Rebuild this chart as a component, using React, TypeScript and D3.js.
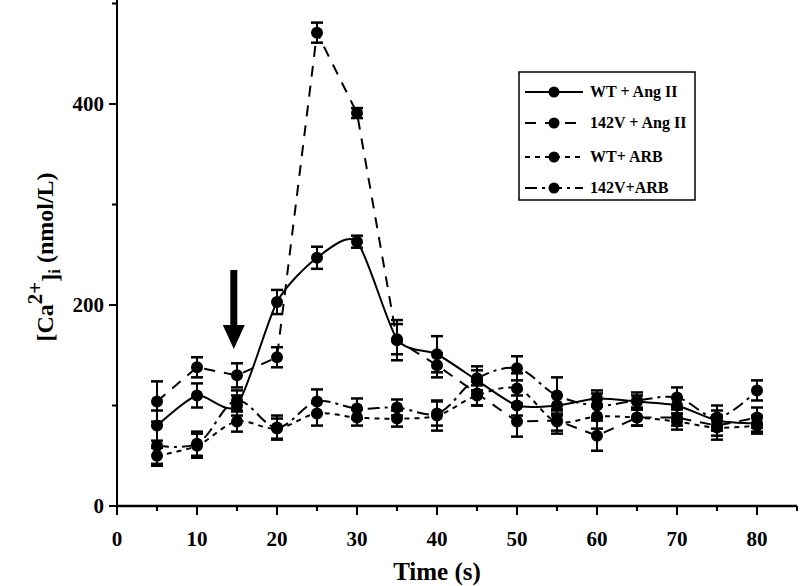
import React from "react";
import * as d3 from "d3";

const times = [5, 10, 15, 20, 25, 30, 35, 40, 45, 50, 55, 60, 65, 70, 75, 80];

const wtAng = [80, 110, 100, 203, 247, 263, 166, 151, 125, 100, 100, 107, 104, 100, 85, 82];
const wtAngErr = [15, 12, 10, 12, 11, 6, 15, 18, 10, 10, 10, 8, 6, 8, 10, 8];

const v142Ang = [104, 138, 130, 148, 471, 391, 165, 140, 112, 84, 85, 70, 88, 88, 80, 88];
const v142AngErr = [20, 10, 12, 10, 10, 5, 20, 12, 12, 15, 10, 15, 8, 8, 10, 10];

const wtArb = [50, 60, 84, 77, 92, 88, 87, 90, 110, 117, 84, 89, 88, 84, 78, 80];
const wtArbErr = [8, 12, 10, 10, 12, 8, 8, 15, 10, 15, 12, 12, 8, 8, 12, 8];

const v142Arb = [60, 62, 105, 78, 104, 97, 98, 92, 127, 137, 110, 100, 105, 108, 88, 115];
const v142ArbErr = [20, 12, 10, 12, 12, 10, 8, 12, 12, 12, 18, 12, 8, 10, 12, 10];

const seriesNames = ["WT + Ang II", "142V + Ang II", "WT+ ARB", "142V+ARB"];

const xTicks = [0, 10, 20, 30, 40, 50, 60, 70, 80];
const xMinor = [5, 15, 25, 35, 45, 55, 65, 75, 85];
const yTicks = [0, 200, 400];
const yMinor = [100, 300, 500];

const arrowTime = 14.6;

export default function App() {
  const x = d3.scaleLinear().domain([0, 85]).range([117, 797]);
  const y = d3.scaleLinear().domain([0, 500]).range([506, 3.5]);

  const series = [
    { name: seriesNames[0], vals: wtAng, err: wtAngErr, dash: "none", curve: d3.curveCardinal.tension(0.3) },
    { name: seriesNames[1], vals: v142Ang, err: v142AngErr, dash: "11,9", curve: d3.curveLinear },
    { name: seriesNames[2], vals: wtArb, err: wtArbErr, dash: "5,5", curve: d3.curveCatmullRom.alpha(0.5) },
    { name: seriesNames[3], vals: v142Arb, err: v142ArbErr, dash: "12,5,3,5", curve: d3.curveCatmullRom.alpha(0.5) },
  ];

  const font = "'Liberation Serif', 'Times New Roman', serif";
  const legendX = 519;
  const legendY = 72;
  const legendRows = [92, 123, 157, 188];
  const ax = x(arrowTime);

  return (
    <svg
      width={800}
      height={586}
      style={{ position: "absolute", left: 0, top: 0, background: "#fff" }}
      fontFamily={font}
    >
      <rect x={0} y={0} width={800} height={586} fill="#fff" />
      {/* series */}
      {series.map((s, si) => {
        const line = d3
          .line<number>()
          .x((_, i) => x(times[i]))
          .y((v) => y(v))
          .curve(s.curve);
        return (
          <g key={si}>
            <path d={line(s.vals) || ""} fill="none" stroke="#000" strokeWidth={2} strokeDasharray={s.dash} />
            {s.vals.map((v, i) => {
              const cx = x(times[i]);
              const top = y(v + s.err[i]);
              const bot = y(v - s.err[i]);
              return (
                <g key={i}>
                  <line x1={cx} x2={cx} y1={top} y2={bot} stroke="#000" strokeWidth={2} />
                  <line x1={cx - 6} x2={cx + 6} y1={top} y2={top} stroke="#000" strokeWidth={2.5} />
                  <line x1={cx - 6} x2={cx + 6} y1={bot} y2={bot} stroke="#000" strokeWidth={2.5} />
                  <circle cx={cx} cy={y(v)} r={6} fill="#000" />
                </g>
              );
            })}
          </g>
        );
      })}

      {/* arrow */}
      <g>
        <rect x={ax - 3.5} y={270} width={7} height={57} fill="#000" />
        <path d={`M${ax - 11},325 L${ax + 11},325 L${ax},349 Z`} fill="#000" />
      </g>

      {/* axes */}
      <line x1={x(0)} x2={x(0)} y1={0} y2={y(0) + 2} stroke="#000" strokeWidth={2} />
      <line x1={x(0) - 1} x2={x(85)} y1={y(0)} y2={y(0)} stroke="#000" strokeWidth={2.5} />
      {xTicks.map((t) => (
        <g key={"xt" + t}>
          <line x1={x(t)} x2={x(t)} y1={y(0)} y2={y(0) + 9} stroke="#000" strokeWidth={2} />
          <text x={x(t)} y={546} textAnchor="middle" fontSize={21} fontWeight="bold">
            {t}
          </text>
        </g>
      ))}
      {xMinor.map((t) => (
        <line key={"xm" + t} x1={x(t)} x2={x(t)} y1={y(0)} y2={y(0) + 5} stroke="#000" strokeWidth={2} />
      ))}
      {yTicks.map((t) => (
        <g key={"yt" + t}>
          <line x1={x(0) - 8} x2={x(0)} y1={y(t)} y2={y(t)} stroke="#000" strokeWidth={2} />
          <text x={x(0) - 13} y={y(t) + 7} textAnchor="end" fontSize={21} fontWeight="bold">
            {t}
          </text>
        </g>
      ))}
      {yMinor.map((t) => (
        <line key={"ym" + t} x1={x(0) - 5} x2={x(0)} y1={y(t)} y2={y(t)} stroke="#000" strokeWidth={2} />
      ))}

      {/* axis titles */}
      <text x={437} y={580} textAnchor="middle" fontSize={25} fontWeight="bold">
        Time (s)
      </text>
      <text transform="translate(53,257) rotate(-90)" textAnchor="middle" fontSize={24} fontWeight="bold">
        [Ca
        <tspan dy={-11} fontSize={21}>2+</tspan>
        <tspan dy={16}>]</tspan>
        <tspan dy={2} fontSize={17}>i</tspan>
        <tspan dy={-7}> (nmol/L)</tspan>
      </text>

      {/* legend */}
      <rect x={legendX} y={legendY} width={176} height={128} fill="#fff" stroke="#000" strokeWidth={1.5} />
      {series.map((s, i) => (
        <g key={"lg" + i}>
          <line
            x1={525}
            x2={583}
            y1={legendRows[i]}
            y2={legendRows[i]}
            stroke="#000"
            strokeWidth={2}
            strokeDasharray={s.dash}
          />
          <circle cx={554} cy={legendRows[i]} r={5.5} fill="#000" />
          <text x={590} y={legendRows[i] + 5} fontSize={16} fontWeight="bold">
            {s.name}
          </text>
        </g>
      ))}
    </svg>
  );
}
